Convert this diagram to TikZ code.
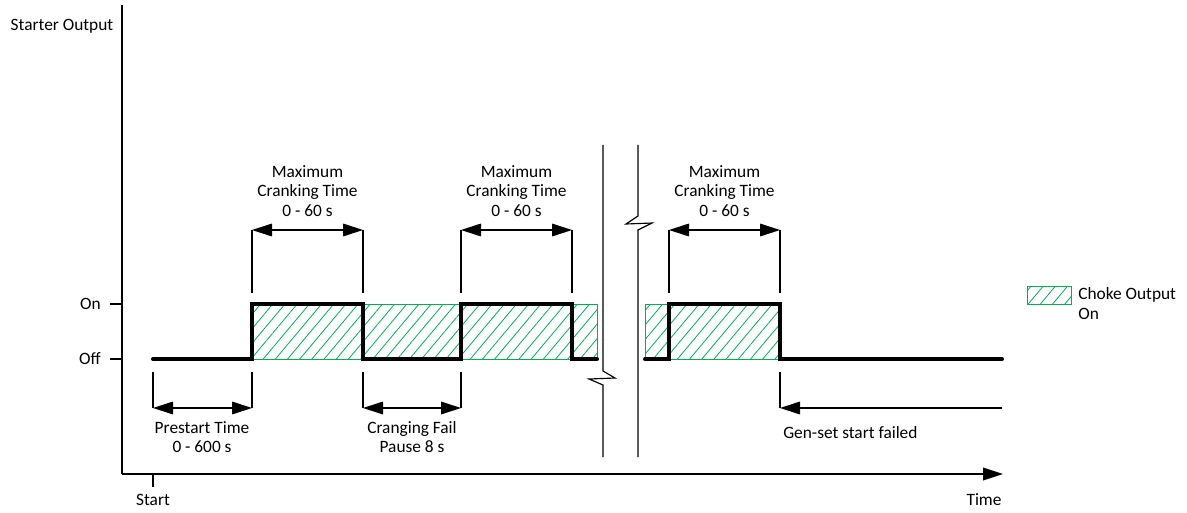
\documentclass[tikz,border=0pt]{standalone}
\usepackage{fontspec}
\setmainfont{Carlito}
\usetikzlibrary{arrows.meta,patterns.meta}
\definecolor{choke}{RGB}{0,176,80}
\begin{document}
\begin{tikzpicture}[x=0.75pt,y=-0.75pt,
  lbl/.style={font=\fontsize{13}{14.8}\selectfont, align=center, inner sep=0pt},
  sig/.style={line width=3pt, line cap=round, line join=miter},
  axis/.style={line width=1.1pt},
  thin/.style={line width=0.85pt},
  dim/.style={thin, {Triangle[length=15pt,width=9.5pt]}-{Triangle[length=15pt,width=9.5pt]}},
  dimone/.style={thin, -{Triangle[length=15pt,width=9.5pt]}},
  hatch/.style={draw=choke, line width=0.75pt, pattern={Lines[angle=50,distance=7pt,line width=0.6pt]}, pattern color=choke}]
\useasboundingbox (0,0) rectangle (1187,513);

% axes
\coordinate (ytop) at (122,5);
\coordinate (orig) at (122,474);
\coordinate (xend) at (1003,474);
\draw[axis] (ytop) -- (orig);
\draw[axis, -{Triangle[length=15pt,width=9.5pt]}] (orig) -- (xend);
\coordinate (on0) at (110,304);  \coordinate (on1) at (122,304);
\coordinate (off0) at (110,359); \coordinate (off1) at (122,359);
\draw[thin] (on0) -- (on1);
\draw[thin] (off0) -- (off1);
\coordinate (st0) at (153,474); \coordinate (st1) at (153,487);
\draw[thin] (st0) -- (st1);

\node[lbl] (ylab) at (62,26) {Starter Output};
\node[lbl, anchor=east] (onlab) at (101,304) {On};
\node[lbl, anchor=east] (offlab) at (101,359) {Off};
\node[lbl] (startlab) at (153,500) {Start};
\node[lbl] (timelab) at (984,500) {Time};

% choke hatched areas
\path[hatch] (252,304) rectangle (597,359);
\path[hatch] (645,304) rectangle (780,359);

% signal
\coordinate (s0) at (153,359);
\coordinate (s1) at (252,359); \coordinate (s2) at (252,304);
\coordinate (s3) at (363,304); \coordinate (s4) at (363,359);
\coordinate (s5) at (461,359); \coordinate (s6) at (461,304);
\coordinate (s7) at (572,304); \coordinate (s8) at (572,359);
\coordinate (s9) at (597,359);
\draw[sig] (s0) -- (s1) -- (s2) -- (s3) -- (s4) -- (s5) -- (s6) -- (s7) -- (s8) -- (s9);
\coordinate (t0) at (645,359);
\coordinate (t1) at (669,359); \coordinate (t2) at (669,304);
\coordinate (t3) at (780,304); \coordinate (t4) at (780,359);
\coordinate (t5) at (1002,359);
\draw[sig] (t0) -- (t1) -- (t2) -- (t3) -- (t4) -- (t5);

% break lines
\coordinate (b0) at (603,145); \coordinate (b1) at (603,371);
\coordinate (b2) at (615,378); \coordinate (b3) at (589,379);
\coordinate (b4) at (603,385); \coordinate (b5) at (603,457);
\draw[thin] (b0) -- (b1) -- (b2) -- (b3) -- (b4) -- (b5);
\coordinate (c0) at (638,145); \coordinate (c1) at (638,216);
\coordinate (c2) at (626,224); \coordinate (c3) at (652,223);
\coordinate (c4) at (638,230); \coordinate (c5) at (638,457);
\draw[thin] (c0) -- (c1) -- (c2) -- (c3) -- (c4) -- (c5);

% maximum cranking time dimensions
\foreach \a/\b/\n in {252/363/1, 461/572/2, 669/780/3}{
  \coordinate (ma\n) at (\a,230); \coordinate (mb\n) at (\b,230);
  \coordinate (mc\n) at (\a,293); \coordinate (md\n) at (\b,293);
  \draw[thin] (ma\n) -- (mc\n);
  \draw[thin] (mb\n) -- (md\n);
  \draw[dim] (ma\n) -- (mb\n);
  \node[lbl] (mt\n) at ({(\a+\b)/2},191) {Maximum\\Cranking Time\\0 - 60 s};
}

% prestart
\coordinate (pa) at (153,372); \coordinate (pb) at (252,372);
\coordinate (pc) at (153,408); \coordinate (pd) at (252,408);
\draw[thin] (pa) -- (pc);
\draw[thin] (pb) -- (pd);
\draw[dim] (pc) -- (pd);
\node[lbl] (pt) at (202,437) {Prestart Time\\0 - 600 s};

% cranging fail pause
\coordinate (qa) at (363,372); \coordinate (qb) at (461,372);
\coordinate (qc) at (363,408); \coordinate (qd) at (461,408);
\draw[thin] (qa) -- (qc);
\draw[thin] (qb) -- (qd);
\draw[dim] (qc) -- (qd);
\node[lbl] (qt) at (412,437) {Cranging Fail\\Pause 8 s};

% gen-set start failed
\coordinate (ga) at (780,372); \coordinate (gc) at (780,408);
\coordinate (ge) at (1002,408);
\draw[thin] (ga) -- (gc);
\draw[dimone] (ge) -- (gc);
\node[lbl, anchor=west] (gt) at (783,433) {Gen-set start failed};

% legend
\node[hatch, minimum width=33pt, minimum height=13.5pt, inner sep=0pt] (leg) at (1049,295) {};
\node[lbl, align=left, anchor=north west] (legt) at (1078,287) {Choke Output\\On};
\end{tikzpicture}
\end{document}
